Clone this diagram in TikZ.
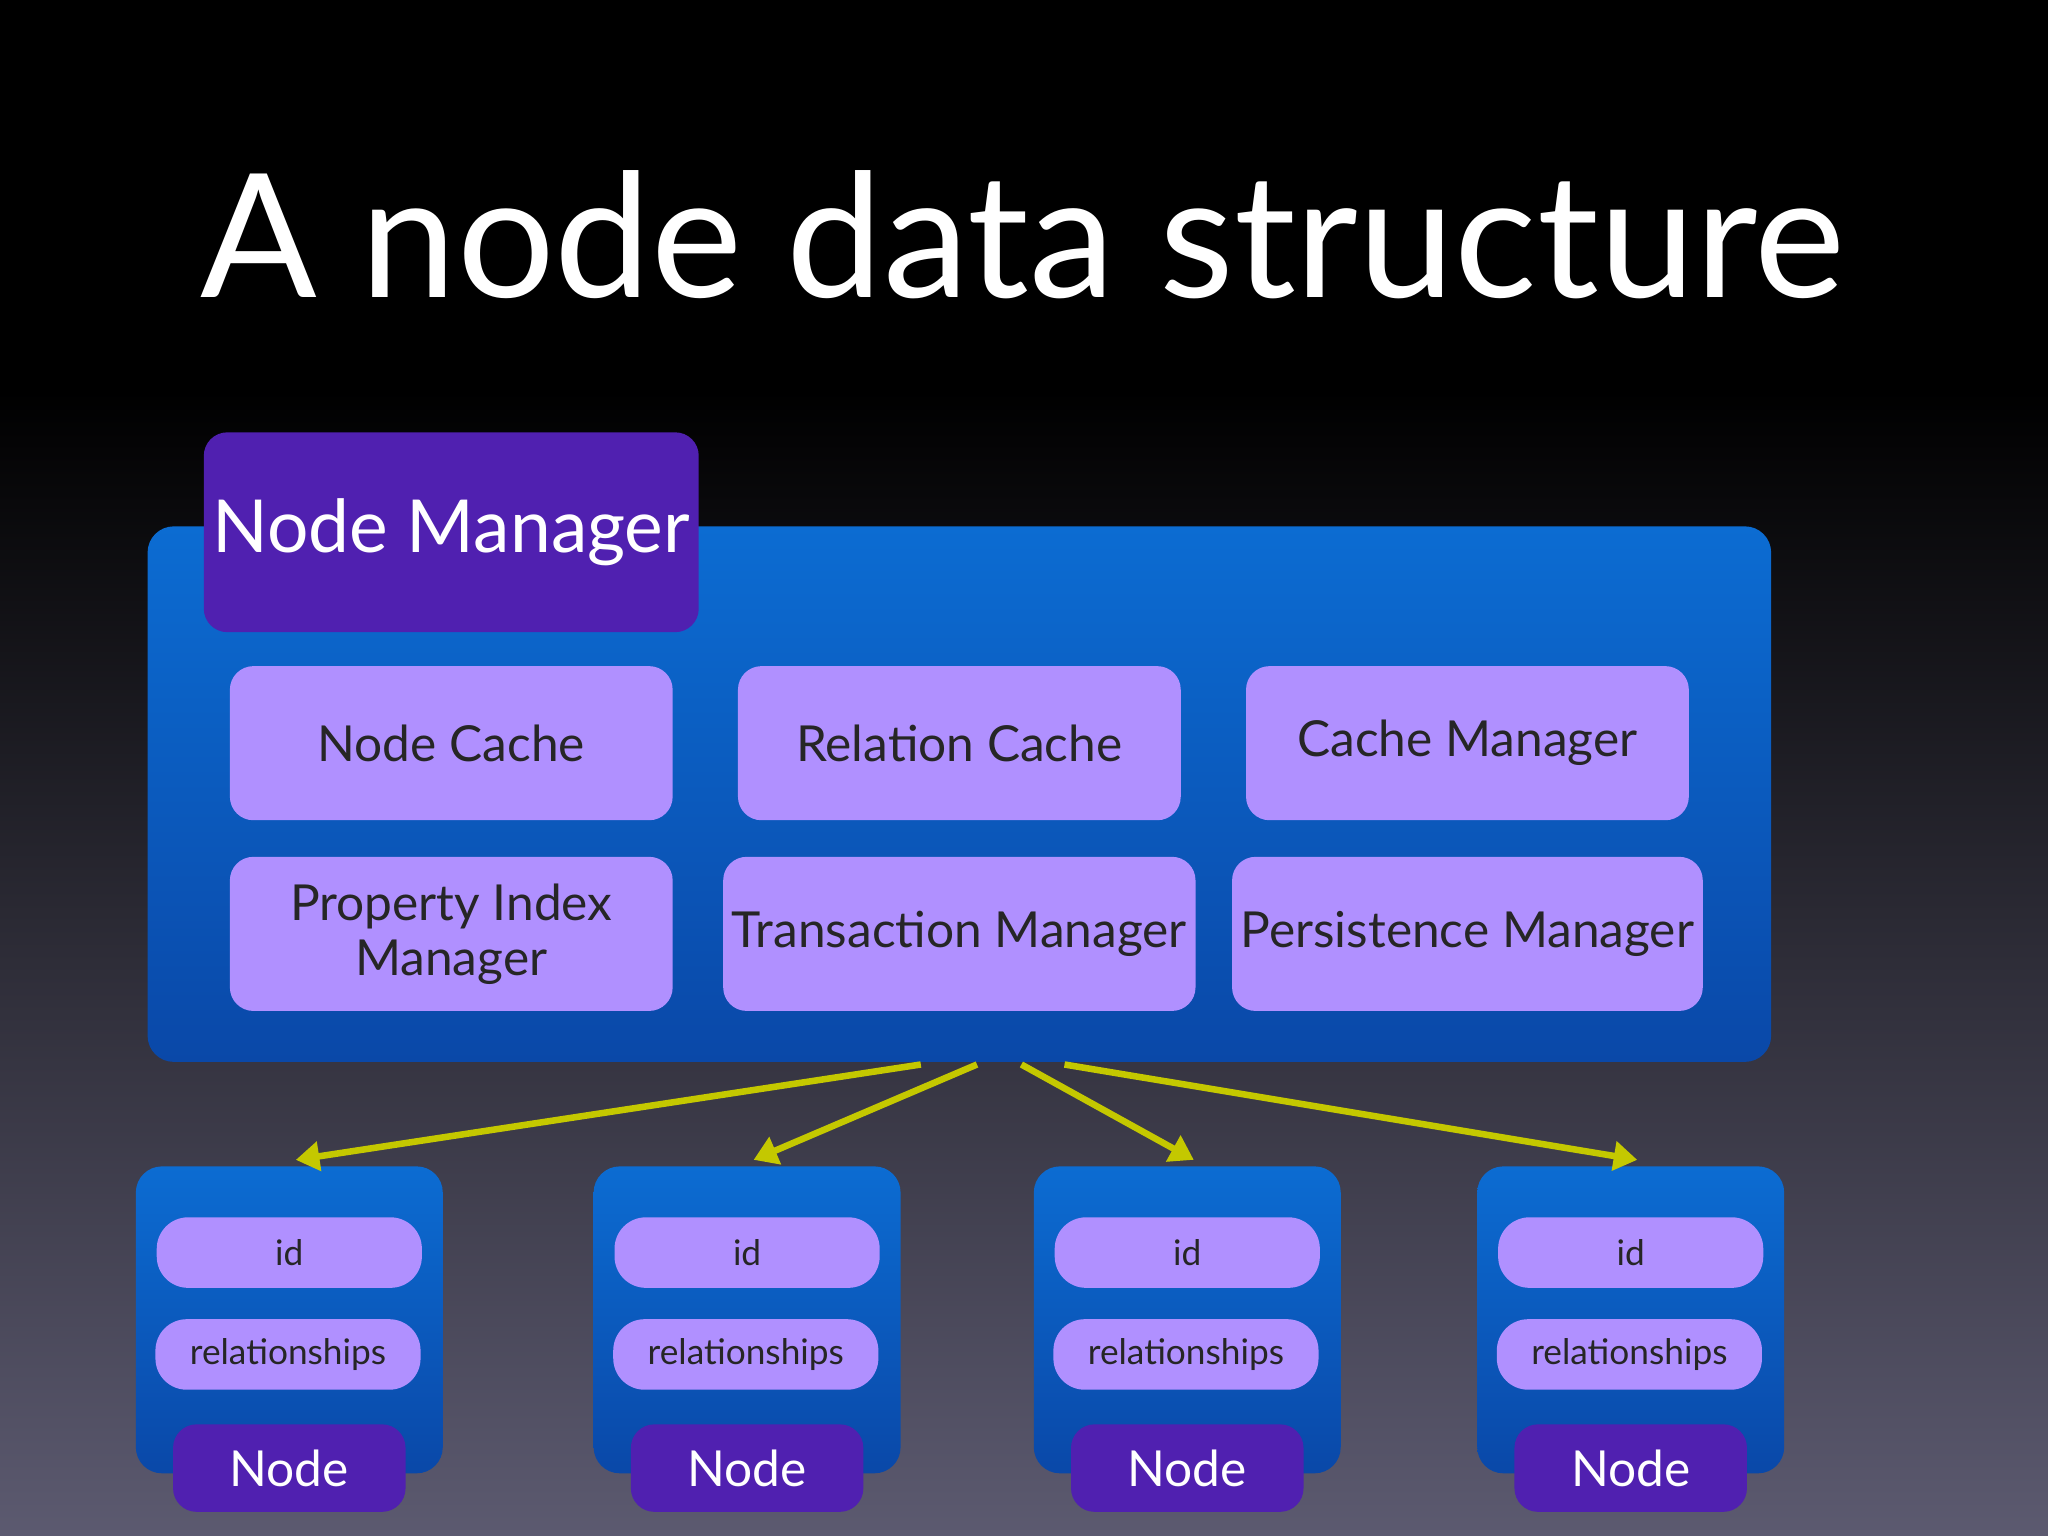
\documentclass[tikz,border=0pt]{standalone}
\usepackage{fontspec}
\setmainfont{Lato}
\usetikzlibrary{arrows.meta}
\definecolor{bgb}{RGB}{92,90,112}
\definecolor{bluet}{RGB}{12,108,210}
\definecolor{blueb}{RGB}{10,72,168}
\definecolor{lpur}{RGB}{176,144,255}
\definecolor{dpur}{RGB}{80,32,176}
\definecolor{arr}{RGB}{196,200,0}
\tikzset{
 frame/.style={rounded corners=10pt,top color=bluet,bottom color=blueb,draw=none},
 tab/.style={rounded corners=9pt,fill=dpur,text=white,draw=none},
 cell/.style={rounded corners=9pt,fill=lpur,text=black!85,draw=none,align=center,font=\fontsize{19}{21}\selectfont},
 small/.style={rounded corners=12pt,fill=lpur,text=black!85,draw=none,font=\fontsize{13.5}{15}\selectfont},
 link/.style={arr,line width=2.5pt,-{Triangle[width=11pt,length=9pt]}}
}
\begin{document}
\begin{tikzpicture}[x=0.5pt,y=-0.5pt]
\useasboundingbox (0,0) rectangle (1568,1176);
\fill[black] (0,0) rectangle (1568,300);
\shade[top color=black,bottom color=bgb] (0,299) rectangle (1568,1176);
\node[text=white,font=\fontsize{66}{70}\selectfont] (title) at (783,180) {A node data structure};
\path[frame] (113,403) rectangle (1356,813);
\coordinate (nm) at (748,813);
\node[tab,minimum width=187.5pt,minimum height=76.5pt,font=\fontsize{28}{30}\selectfont] (mgr) at (345.5,407.5) {Node Manager};
\foreach \n/\x/\y/\t in {c1/345.5/569/Node Cache,c2/734.5/569/Relation Cache,c3/1123.5/569/Cache Manager,c4/345.5/715/{Property Index\\Manager},c5/734.5/715/Transaction Manager,c6/1123.5/715/Persistence Manager}
  \node[cell,minimum width=169.5pt,minimum height=59pt] (\n) at (\x,\y) {\t};
\foreach \i/\x in {1/221.5,2/572,3/909,4/1248.5}{
  \path[frame] (\x-117.5,893) rectangle (\x+117.5,1128);
  \node[small,minimum width=101.5pt,minimum height=27pt] (id\i) at (\x,959) {id};
  \node[small,minimum width=101.5pt,minimum height=27pt] (rel\i) at (\x-1,1037) {relationships};
  \node[tab,minimum width=89pt,minimum height=33.5pt,font=\fontsize{19}{21}\selectfont] (n\i) at (\x,1124) {Node};
  \coordinate (t\i) at (\x+5,888);
}
\coordinate (s1) at (705,815);\coordinate (s2) at (748,815);
\coordinate (s3) at (782,815);\coordinate (s4) at (815,815);
\draw[link] (s1) -- (t1);
\draw[link] (s2) -- (t2);
\draw[link] (s3) -- (t3);
\draw[link] (s4) -- (t4);
\end{tikzpicture}
\end{document}
